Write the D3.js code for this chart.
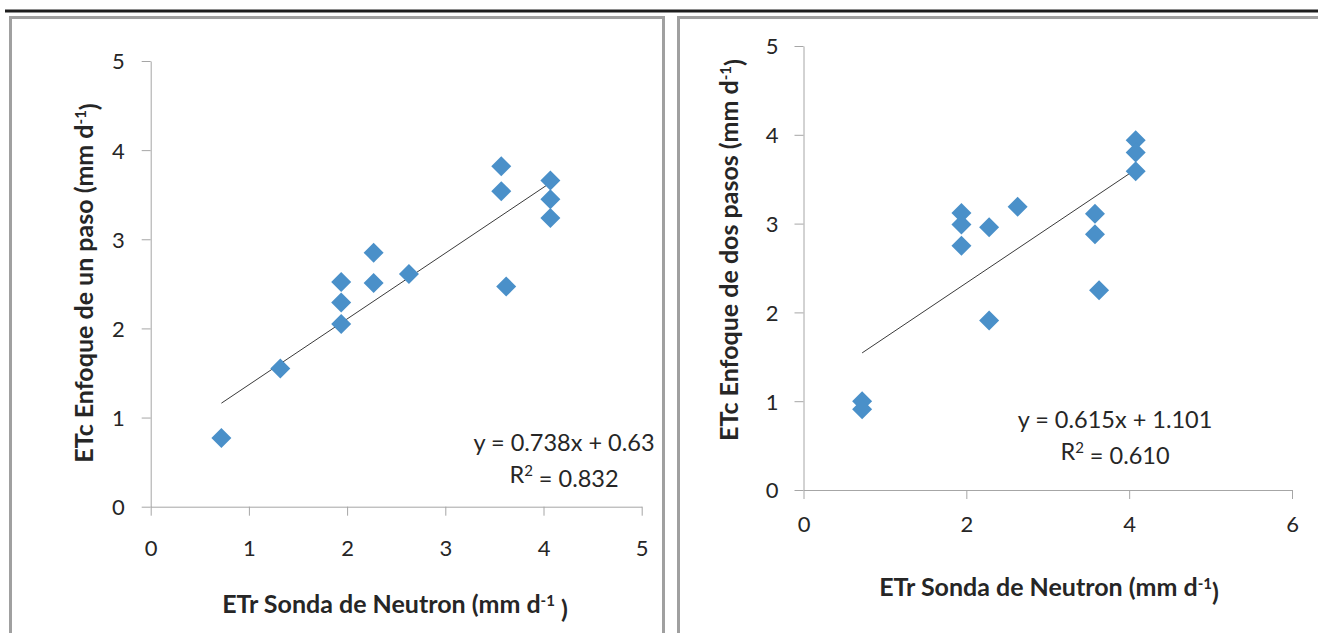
<!DOCTYPE html>
<html><head><meta charset="utf-8">
<script src="https://cdn.jsdelivr.net/npm/d3@7"></script>
<style>body{margin:0;background:#fff}svg{display:block}</style>
</head><body><svg id="c" width="1318" height="633"></svg>
<script>
// ---- data ----
const xTicksUno = [0,1,2,3,4,5];
const yTicksUno = [0,1,2,3,4,5];
const xTicksDos = [0,2,4,6];
const yTicksDos = [0,1,2,3,4,5];
const etrUno = [0.72,1.32,1.94,1.94,1.94,2.27,2.27,2.63,3.57,3.57,3.62,4.07,4.07,4.07];
const etcUno = [0.77,1.55,2.05,2.29,2.52,2.85,2.51,2.61,3.82,3.54,2.47,3.66,3.45,3.24];
const etrDos = [0.72,0.72,1.94,1.94,1.94,2.28,2.28,2.63,3.58,3.58,3.63,4.08,4.08,4.08];
const etcDos = [1.00,0.91,3.12,2.99,2.75,2.96,1.91,3.19,3.11,2.88,2.25,3.94,3.80,3.59];
const slopes = [0.738, 0.615];
const intercepts = [0.63, 1.101];
const eqLabels = ["y = 0.738x + 0.63", "y = 0.615x + 1.101"];
const r2Labels = ["0.832", "0.610"];
const yTitles = ["ETc Enfoque de un paso (mm d", "ETc Enfoque de dos pasos (mm d"];
const xTitle = "ETr Sonda de Neutron (mm d";

const svg = d3.select("#c");
const FONT = "Lato, 'Open Sans', sans-serif";
const AX = "#a6a6a6", TXT = "#262626", MK = "#4a90c9";

// frame lines
svg.append("rect").attr("x",5).attr("y",9.5).attr("width",1313).attr("height",3).attr("fill","#1e1e1e");
svg.append("rect").attr("x",10.5).attr("y",17.5).attr("width",653).attr("height",630).attr("fill","none").attr("stroke","#a0a0a0").attr("stroke-width",3);
svg.append("rect").attr("x",678.5).attr("y",17.5).attr("width",660).attr("height",630).attr("fill","none").attr("stroke","#a0a0a0").attr("stroke-width",3);

const panels = [
  {xs:d3.scaleLinear().domain([0,5]).range([150.7,641.7]), ys:d3.scaleLinear().domain([0,5]).range([506.7,61]),
   xt:xTicksUno, yt:yTicksUno, xd:etrUno, yd:etcUno, xpad:25, ypad:17,
   eq:[564,451], r2:[564,483], xtl:[395,613], ytl:[93,283], xSpace:true},
  {xs:d3.scaleLinear().domain([0,6]).range([803.5,1292]), ys:d3.scaleLinear().domain([0,5]).range([490,46]),
   xt:xTicksDos, yt:yTicksDos, xd:etrDos, yd:etcDos, xpad:17, ypad:16,
   eq:[1115,428], r2:[1115,460], xtl:[1049,596], ytl:[738,250], xSpace:false}
];

panels.forEach((p,i)=>{
  const g = svg.append("g");
  const ya = d3.axisLeft(p.ys).tickValues(p.yt).tickFormat(d3.format("d")).tickSize(9).tickSizeOuter(0).tickPadding(p.ypad);
  const xa = d3.axisBottom(p.xs).tickValues(p.xt).tickFormat(d3.format("d")).tickSize(9).tickSizeOuter(0).tickPadding(p.xpad);
  const gy = g.append("g").attr("transform",`translate(${p.xs(0)},0)`).call(ya);
  const gx = g.append("g").attr("transform",`translate(0,${p.ys(0)})`).call(xa);
  [gx,gy].forEach(a=>{
    a.select(".domain").attr("stroke",AX);
    a.selectAll(".tick line").attr("stroke",AX);
    a.selectAll(".tick text").attr("fill",TXT).style("font-family",FONT).style("font-size","22px");
  });
  gy.selectAll(".tick text").attr("dy","0.36em");

  // trend line
  const x0 = d3.min(p.xd), x1 = d3.max(p.xd);
  g.append("line").attr("x1",p.xs(x0)).attr("y1",p.ys(slopes[i]*x0+intercepts[i]))
    .attr("x2",p.xs(x1)).attr("y2",p.ys(slopes[i]*x1+intercepts[i]))
    .attr("stroke","#3a3a3a").attr("stroke-width",1);

  // markers (diamonds)
  g.selectAll("path.pt").data(p.xd.map((d,k)=>[d,p.yd[k]])).join("path").attr("class","pt")
    .attr("d",d3.symbol().type(d3.symbolSquare).size(200))
    .attr("transform",d=>`translate(${p.xs(d[0])},${p.ys(d[1])}) rotate(45)`)
    .attr("fill",MK);

  // equation
  g.append("text").attr("x",p.eq[0]).attr("y",p.eq[1]).attr("text-anchor","middle")
    .style("font-family",FONT).style("font-size","23.5px").attr("fill",TXT).text(eqLabels[i]);
  const r = g.append("text").attr("x",p.r2[0]).attr("y",p.r2[1]).attr("text-anchor","middle")
    .style("font-family",FONT).style("font-size","23.5px").attr("fill",TXT);
  r.append("tspan").text("R");
  r.append("tspan").attr("dy","-0.45em").style("font-size","15px").text("2");
  r.append("tspan").attr("dy","0.45em").text(" = " + r2Labels[i]);

  // x title
  const xt = g.append("text").attr("x",p.xtl[0]).attr("y",p.xtl[1]).attr("text-anchor","middle")
    .style("font-family",FONT).style("font-size","25px").style("font-weight","bold").attr("fill",TXT);
  xt.append("tspan").text(xTitle);
  xt.append("tspan").attr("dy","-0.5em").style("font-size","15px").text("-1");
  xt.append("tspan").attr("dy","0.5em").text(p.xSpace ? " )" : ")");

  // y title
  const yt = g.append("text").attr("transform",`translate(${p.ytl[0]},${p.ytl[1]}) rotate(-90)`).attr("text-anchor","middle")
    .style("font-family",FONT).style("font-size","25px").style("font-weight","bold").attr("fill",TXT);
  yt.append("tspan").text(yTitles[i]);
  yt.append("tspan").attr("dy","-0.5em").style("font-size","15px").text("-1");
  yt.append("tspan").attr("dy","0.5em").text(")");
});
</script></body></html>
